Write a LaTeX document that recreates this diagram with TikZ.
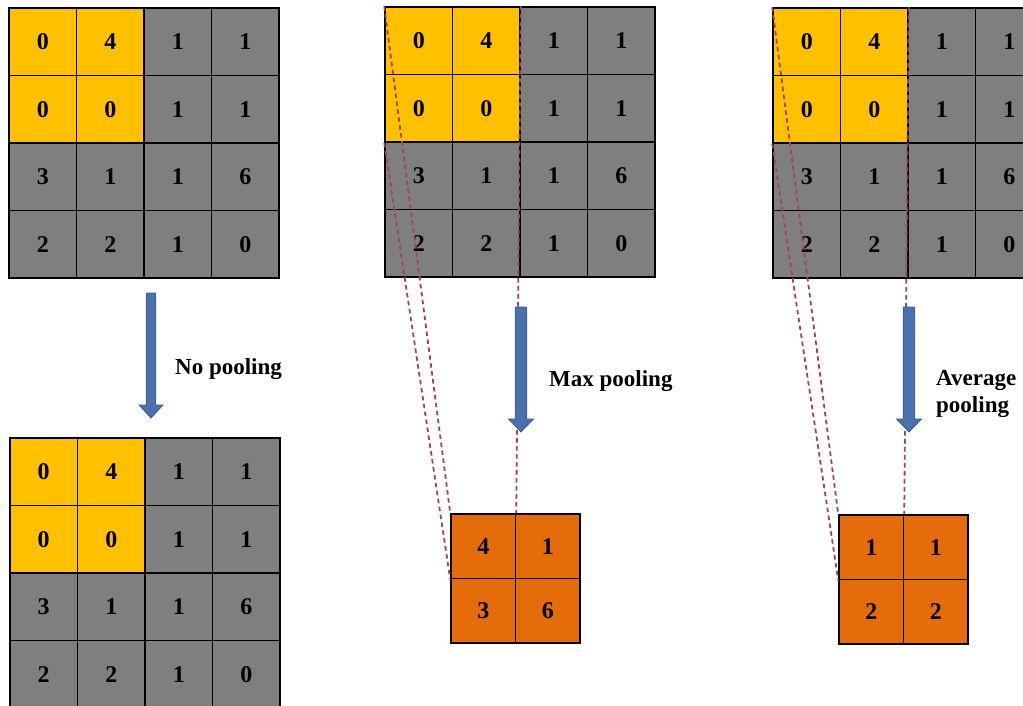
\documentclass[tikz,border=0pt]{standalone}
\usepackage{fontspec}
\setmainfont{Liberation Serif}
\definecolor{yel}{HTML}{FFC000}
\definecolor{gry}{HTML}{7F7F7F}
\definecolor{org}{HTML}{E46C0A}
\definecolor{arrfill}{HTML}{4B70AC}
\definecolor{arrline}{HTML}{3A5F93}
\definecolor{dashc}{HTML}{A0464E}
\tikzset{
  cell/.style={draw=black, line width=1.5pt, minimum width=67.5pt, minimum height=67.5pt,
    inner sep=0pt, font=\bfseries\fontsize{24}{28}\selectfont, text=black},
  rcell/.style={cell, fill=org, minimum width=64.5pt, minimum height=64.5pt},
  lbl/.style={inner sep=0pt, font=\bfseries\fontsize{23}{27}\selectfont, align=left},
  link/.style={draw=dashc, dash pattern=on 4.5pt off 3.5pt, line width=1.8pt},
  blockarrow/.style={fill=arrfill, draw=arrline, line width=0.8pt}
}
\def\cellvals{1/1/0/yel,1/2/4/yel,1/3/1/gry,1/4/1/gry,
  2/1/0/yel,2/2/0/yel,2/3/1/gry,2/4/1/gry,
  3/1/3/gry,3/2/1/gry,3/3/1/gry,3/4/6/gry,
  4/1/2/gry,4/2/2/gry,4/3/1/gry,4/4/0/gry}
% #1 name, #2 x0, #3 y0
\newcommand{\bigmatrix}[3]{%
  \foreach \r/\c/\v/\col in \cellvals {
    \node[cell, fill=\col] (#1-\r-\c) at ({#2+(\c-0.5)*67.5},{#3+(\r-0.5)*67.5}) {\v};
  }}
% #1 name, #2 x0, #3 y0, #4..#7 values
\newcommand{\smallmatrix}[7]{%
  \node[rcell] (#1-1-1) at ({#2+0.5*64.5},{#3+0.5*64.5}) {#4};
  \node[rcell] (#1-1-2) at ({#2+1.5*64.5},{#3+0.5*64.5}) {#5};
  \node[rcell] (#1-2-1) at ({#2+0.5*64.5},{#3+1.5*64.5}) {#6};
  \node[rcell] (#1-2-2) at ({#2+1.5*64.5},{#3+1.5*64.5}) {#7};
}
% #1 cx, #2 top, #3 head start, #4 tip, #5 half shaft, #6 half head
\newcommand{\downarrowshape}[6]{%
  \draw[blockarrow] ({#1-#5},#2) -- ({#1+#5},#2) -- ({#1+#5},#3) -- ({#1+#6},#3)
    -- (#1,#4) -- ({#1-#6},#3) -- ({#1-#5},#3) -- cycle;
}
\begin{document}
\begin{tikzpicture}[x=1pt,y=-1pt]
\useasboundingbox (0,0) rectangle (1023,706);
\clip (0,0) rectangle (1023,706);
\fill[white] (0,0) rectangle (1023,706);

% matrices
\bigmatrix{a}{9}{8}
\bigmatrix{b}{10}{438}
\bigmatrix{c}{385}{7}
\bigmatrix{d}{773}{8}
\smallmatrix{m}{451}{514}{4}{1}{3}{6}
\smallmatrix{v}{839}{515}{1}{1}{2}{2}

% dashed projection lines
\draw[link] (c-1-1.north west) -- (m-1-1.north west);
\draw[link] (c-2-1.south west) -- (m-1-1.south west);
\draw[link] (c-1-2.north east) -- (m-1-1.north east);
\draw[link] (d-1-1.north west) -- (v-1-1.north west);
\draw[link] (d-2-1.south west) -- (v-1-1.south west);
\draw[link] (d-1-2.north east) -- (v-1-1.north east);

% block arrows
\downarrowshape{151}{293}{405}{418}{4.8}{12}
\downarrowshape{521}{307}{419}{432}{5.8}{12.5}
\downarrowshape{909}{307}{419}{432}{5.8}{12.5}

% labels
\node[lbl, anchor=base west] (l1) at (175,374) {No pooling};
\node[lbl, anchor=base west] (l2) at (549,386) {Max pooling};
\node[lbl, anchor=north west] (l3) at (936,370) {Average\\pooling};
\end{tikzpicture}
\end{document}
